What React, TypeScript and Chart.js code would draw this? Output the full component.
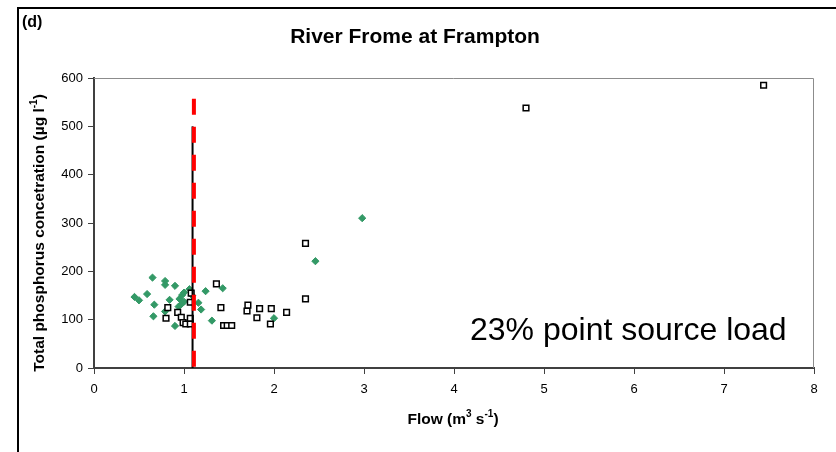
import React, { useEffect, useRef } from 'react';
import { Chart, registerables } from 'chart.js';

Chart.register(...registerables);

// Open squares (black)
const squareX = [0.80, 0.82, 0.93, 0.97, 0.99, 1.02, 1.07, 1.07, 1.07, 1.08, 1.36, 1.41, 1.44, 1.48, 1.53, 1.70, 1.71, 1.81, 1.84, 1.96, 1.97, 2.14, 2.35, 2.35, 4.80, 7.44];
const squareY = [103, 125, 115, 105, 94, 91, 91, 103, 136, 155, 174, 125, 88, 88, 88, 118, 130, 104, 123, 91, 123, 115, 143, 258, 538, 585];

// Filled diamonds (green)
const diamondX = [0.45, 0.50, 0.59, 0.65, 0.66, 0.67, 0.79, 0.79, 0.79, 0.84, 0.90, 0.90, 0.95, 0.98, 1.00, 0.97, 1.00, 0.94, 1.06, 1.09, 1.16, 1.19, 1.24, 1.31, 1.43, 2.00, 2.46, 2.98];
const diamondY = [147, 140, 153, 187, 107, 131, 180, 172, 117, 141, 170, 87, 143, 151, 156, 132, 137, 127, 163, 150, 135, 121, 159, 98, 165, 103, 221, 310];

// Threshold lines
const blackLineX = [1.095, 1.095];
const blackLineY = [0, 500];
const redLineX = [1.11, 1.11];
const redLineY = [557, 0];

const xMin = 0, xMax = 8, xStep = 1;
const yMin = 0, yMax = 600, yStep = 100;

const panelLabel = '(d)';
const chartTitle = 'River Frome at Frampton';
const annotationText = '23% point source load';
const xTitleParts = [['Flow (m', false], ['3', true], [' s', false], ['-1', true], [')', false]] as [string, boolean][];
const yTitleParts = [['Total phosphorus concetration (µg l', false], ['-1', true], [')', false]] as [string, boolean][];

const FONT = '"Liberation Sans", Arial, sans-serif';

function drawRich(ctx: CanvasRenderingContext2D, parts: [string, boolean][], cx: number, cy: number, size: number) {
  const base = `bold ${size}px ${FONT}`;
  const sup = `bold ${Math.round(size * 0.62)}px ${FONT}`;
  let total = 0;
  for (const [t, s] of parts) { ctx.font = s ? sup : base; total += ctx.measureText(t).width; }
  let x = cx - total / 2;
  ctx.textBaseline = 'middle';
  ctx.textAlign = 'left';
  for (const [t, s] of parts) {
    ctx.font = s ? sup : base;
    ctx.fillText(t, x, s ? cy - size * 0.38 : cy);
    x += ctx.measureText(t).width;
  }
}

const decor = {
  id: 'decor',
  beforeDraw(chart: any) {
    const ctx = chart.ctx as CanvasRenderingContext2D;
    ctx.save();
    ctx.fillStyle = '#ffffff';
    ctx.fillRect(0, 0, chart.width, chart.height);
    ctx.fillStyle = '#000000';
    ctx.fillRect(17, 7, 2, chart.height);
    ctx.fillRect(17, 7, chart.width, 2);
    ctx.restore();
  },
  afterDraw(chart: any) {
    const ctx = chart.ctx as CanvasRenderingContext2D;
    const a = chart.chartArea;
    ctx.save();
    // plot-area box (top & right)
    ctx.strokeStyle = '#8c8c8c';
    ctx.lineWidth = 1;
    ctx.beginPath();
    ctx.moveTo(a.left, a.top + 0.5);
    ctx.lineTo(a.right - 0.5, a.top + 0.5);
    ctx.lineTo(a.right - 0.5, a.bottom);
    ctx.stroke();

    ctx.fillStyle = '#000000';
    // panel label
    ctx.font = `bold 16px ${FONT}`;
    ctx.textAlign = 'left';
    ctx.textBaseline = 'alphabetic';
    ctx.fillText(panelLabel, 22, 27);
    // title
    ctx.font = `bold 21px ${FONT}`;
    ctx.textAlign = 'center';
    ctx.textBaseline = 'middle';
    ctx.fillText(chartTitle, 415, 37);
    // annotation
    ctx.font = `32px ${FONT}`;
    ctx.textAlign = 'left';
    ctx.textBaseline = 'alphabetic';
    ctx.fillText(annotationText, 470, 340);
    // x title
    drawRich(ctx, xTitleParts, 453, 420, 15.5);
    // y title
    ctx.translate(40, 233);
    ctx.rotate(-Math.PI / 2);
    drawRich(ctx, yTitleParts, 0, 0, 15.5);
    ctx.restore();
  },
};

export default function App() {
  const ref = useRef<HTMLCanvasElement | null>(null);
  useEffect(() => {
    if (!ref.current) return;
    const axisColor = '#404040';
    const chart = new Chart(ref.current, {
      type: 'scatter',
      data: {
        datasets: [
          {
            data: redLineX.map((x, i) => ({ x, y: redLineY[i] })),
            showLine: true,
            borderColor: '#ff0000',
            borderWidth: 4,
            borderDash: [16, 12],
            borderCapStyle: 'butt',
            pointRadius: 0,
            fill: false,
          },
          {
            data: blackLineX.map((x, i) => ({ x, y: blackLineY[i] })),
            showLine: true,
            borderColor: '#000000',
            borderWidth: 2,
            pointRadius: 0,
            fill: false,
          },
          {
            data: squareX.map((x, i) => ({ x, y: squareY[i] })),
            pointStyle: 'rect',
            pointRadius: 4,
            borderWidth: 1.5,
            borderColor: '#000000',
            backgroundColor: '#ffffff',
            showLine: false,
          },
          {
            data: diamondX.map((x, i) => ({ x, y: diamondY[i] })),
            pointStyle: 'rectRot',
            pointRadius: 3.6,
            borderWidth: 1,
            borderColor: '#339966',
            backgroundColor: '#339966',
            showLine: false,
          },
        ],
      },
      options: {
        animation: false,
        responsive: false,
        devicePixelRatio: 1,
        layout: { padding: { left: 0, right: 22, top: 78, bottom: 0 } },
        plugins: { legend: { display: false }, tooltip: { enabled: false }, title: { display: false } },
        scales: {
          x: {
            type: 'linear',
            min: xMin,
            max: xMax,
            afterFit: (s: any) => { s.height = 84; },
            ticks: { stepSize: xStep, color: '#000', font: { family: FONT, size: 13 }, padding: 8, maxRotation: 0 },
            grid: { drawOnChartArea: false, drawTicks: true, tickLength: 6, color: axisColor, lineWidth: 1 },
            border: { display: true, color: axisColor, width: 2 },
          },
          y: {
            type: 'linear',
            min: yMin,
            max: yMax,
            afterFit: (s: any) => { s.width = 94; },
            ticks: { stepSize: yStep, color: '#000', font: { family: FONT, size: 13 }, padding: 5 },
            grid: { drawOnChartArea: false, drawTicks: true, tickLength: 6, color: axisColor, lineWidth: 1 },
            border: { display: true, color: axisColor, width: 2 },
          },
        },
      },
      plugins: [decor],
    });
    return () => chart.destroy();
  }, []);
  return (
    <div style={{ position: 'fixed', left: 0, top: 0, width: 836, height: 452 }}>
      <canvas ref={ref} width={836} height={452} style={{ display: 'block' }} />
    </div>
  );
}
